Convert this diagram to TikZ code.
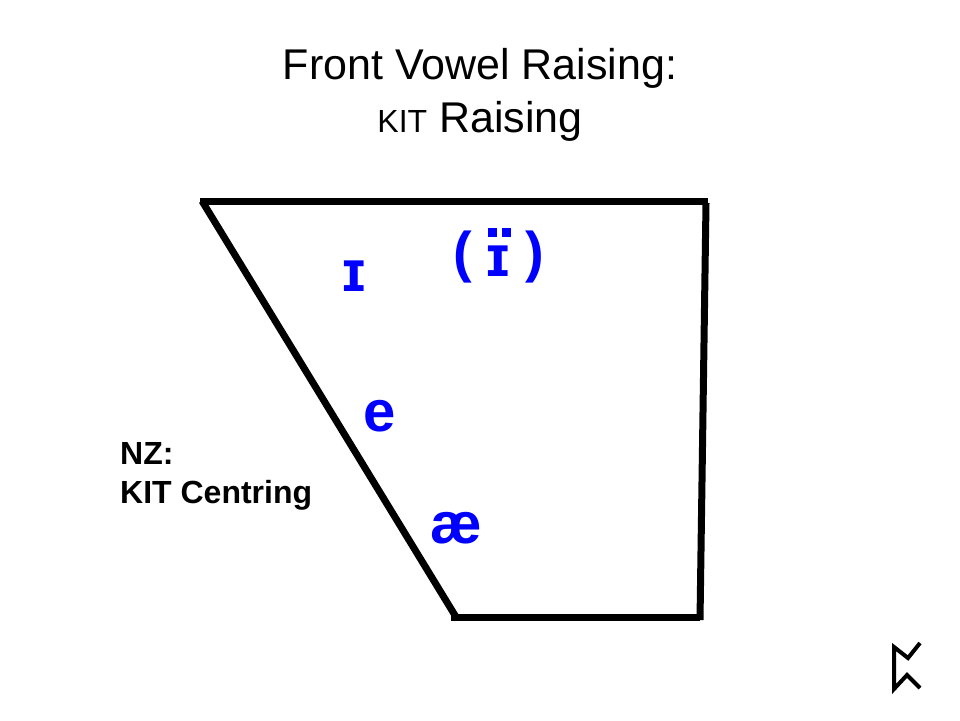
\documentclass[tikz,border=0pt]{standalone}
\usepackage{fontspec}
\setmainfont{Liberation Sans}
\definecolor{vowelblue}{RGB}{0,0,255}
\tikzset{
  heavyline/.style={line width=7pt},
  runeline/.style={line width=4pt},
  vowel/.style={text=vowelblue, inner sep=0pt, font=\bfseries\fontsize{58}{58}\selectfont},
  parentext/.style={text=vowelblue, inner sep=0pt, font=\bfseries\fontsize{56}{56}\selectfont},
  titletext/.style={inner sep=0pt, font=\fontsize{43}{46}\selectfont},
  notetext/.style={inner sep=0pt, anchor=base west, font=\bfseries\fontsize{32}{34}\selectfont}
}
\begin{document}
\begin{tikzpicture}[x=1pt,y=-1pt]
\useasboundingbox (0,0) rectangle (960,720);

% Title
\node[titletext] (titleone) at (480,68) {Front Vowel Raising:};
\node[titletext] (titletwo) at (480,121) {{\fontsize{32}{34}\selectfont KIT} Raising};

% Vowel space
\draw[heavyline] (200,201) -- (708,201);
\draw[heavyline] (706,203) -- (700,620);
\draw[heavyline] (700,617) -- (451,617);
\draw[heavyline] (202,201) -- (456,617);

% Vowels
\node[vowel] (kit) at (354,276) {ɪ};
\node[vowel] (kitraised) at (498,261) {ɪ};
\fill[vowelblue] (488,228) rectangle (497,237);
\fill[vowelblue] (502,228) rectangle (511,237);
\node[parentext] (kitopen) at (463,257) {(};
\node[parentext] (kitclose) at (535,257) {)};
\node[vowel] (dress) at (380,416) {e};
\node[vowel] (trap) at (456,528) {æ};

% Note
\node[notetext] (nzline) at (120,464) {NZ:};
\node[notetext] (centring) at (120,503) {KIT Centring};

% Rune
\draw[runeline] (920,643) -- (908,658) -- (894,647) -- (894,689) -- (907,675) -- (920,688);

\end{tikzpicture}
\end{document}
